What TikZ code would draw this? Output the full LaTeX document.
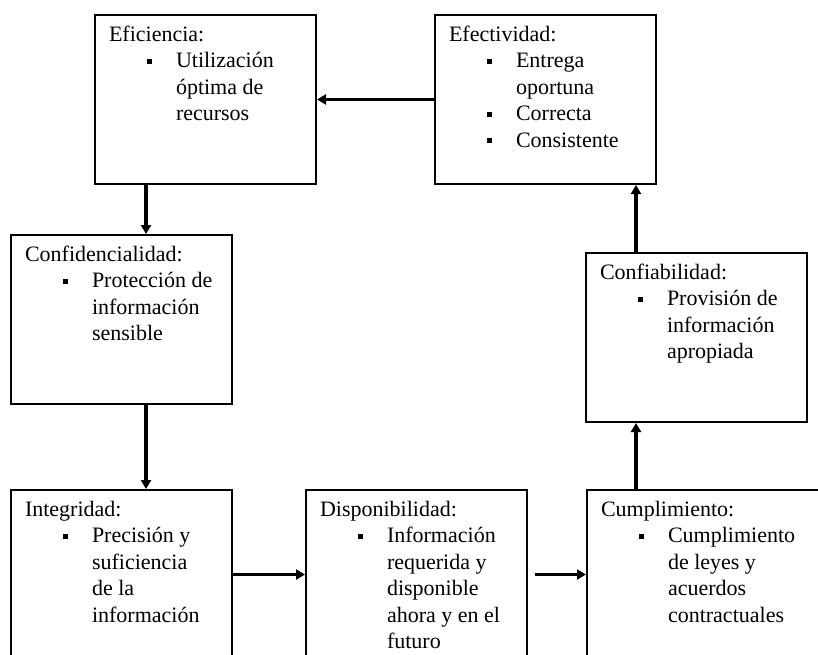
\documentclass[tikz,border=0pt]{standalone}
\usepackage{fontspec}
\setmainfont{Liberation Serif}
\usetikzlibrary{arrows.meta}
\newcommand{\bx}{\leavevmode\llap{\rule[4pt]{5pt}{5pt}\hspace{24.5pt}}}
\newcommand{\boxcontent}[3]{%
\begin{minipage}[t][169pt][t]{#1}\raggedright\setlength{\parindent}{0pt}\setlength{\parskip}{0pt}\fontsize{22}{26.5}\selectfont
\hspace*{14pt}\rule{0pt}{26pt}#2\par
\leftskip=81pt #3\par
\end{minipage}}
\tikzset{
  cbox/.style={draw, line width=2pt, inner sep=0pt, anchor=north west},
  arr/.style={line width=3.2pt, -{Triangle[length=9pt,width=10pt]}}
}
\begin{document}
\begin{tikzpicture}[x=1pt,y=-1pt]
\useasboundingbox (0,0) rectangle (818,654);
\clip (0,0) rectangle (818,654);
\node[cbox] (efi) at (94,14) {\boxcontent{221pt}{Eficiencia:}{\bx Utilización\\ óptima de\\ recursos}};
\node[cbox] (efe) at (434,14) {\boxcontent{221pt}{Efectividad:}{\bx Entrega\\ oportuna\par \bx Correcta\par \bx Consistente}};
\node[cbox] (conf) at (10,234) {\boxcontent{221pt}{Confidencialidad:}{\bx Protección de\\ información\\ sensible}};
\node[cbox] (confi) at (585,252) {\boxcontent{221pt}{Confiabilidad:}{\bx Provisión de\\ información\\ apropiada}};
\node[cbox] (integ) at (10,489) {\boxcontent{221pt}{Integridad:}{\bx Precisión y\\ suficiencia\\ de la\\ información}};
\node[cbox] (disp) at (305,489) {\boxcontent{221pt}{Disponibilidad:}{\bx Información\\ requerida y\\ disponible\\ ahora y en el\\ futuro}};
\node[cbox] (cump) at (586,489) {\boxcontent{245pt}{Cumplimiento:}{\bx Cumplimiento\\ de leyes y\\ acuerdos\\ contractuales}};
\coordinate (xl) at (146,0);
\coordinate (xr) at (636,0);
\draw[arr] (efe.west) -- (efi.east);
\draw[arr] (efi.south -| xl) -- (conf.north -| xl);
\draw[arr] (conf.south -| xl) -- (integ.north -| xl);
\draw[arr] (integ.east) -- (disp.west);
\draw[arr] ([xshift=7pt]disp.east) -- (cump.west);
\draw[arr] (cump.north -| xr) -- (confi.south -| xr);
\draw[arr] (confi.north -| xr) -- (efe.south -| xr);
\end{tikzpicture}
\end{document}
